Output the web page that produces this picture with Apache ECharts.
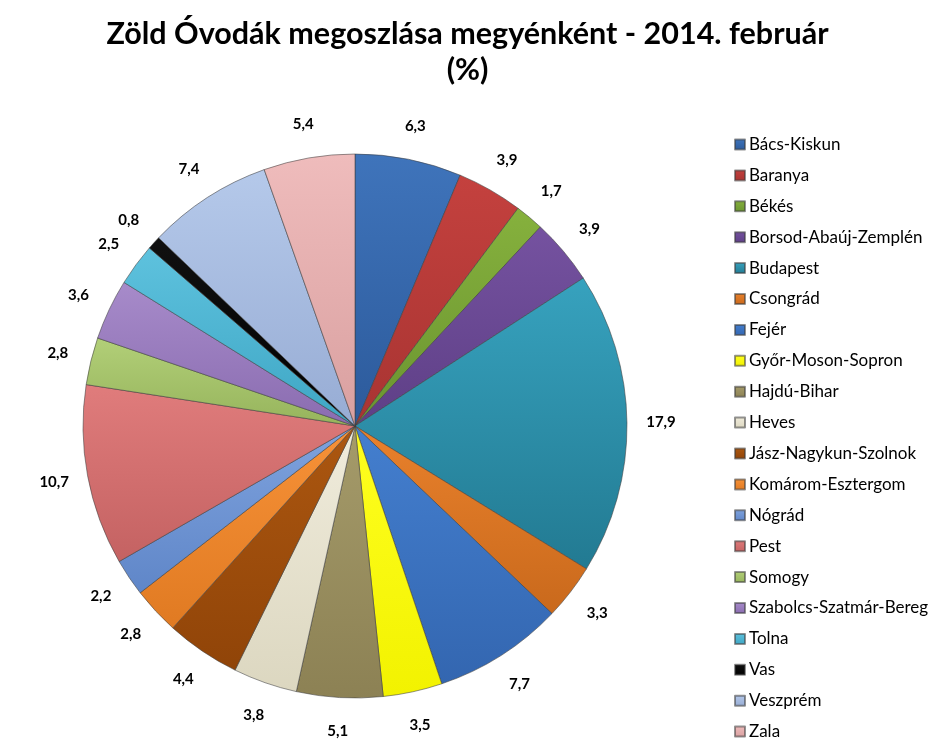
<!DOCTYPE html>
<html>
<head>
<meta charset="utf-8">
<script src="https://cdn.jsdelivr.net/npm/echarts@6/dist/echarts.min.js"></script>
<style>html,body{margin:0;padding:0;background:#fff}#c{width:935px;height:750px}</style>
</head>
<body>
<div id="c"></div>
<script>
const titleText = 'Zöld Óvodák megoszlása megyénként - 2014. február\n(%)';
const categories = ['Bács-Kiskun','Baranya','Békés','Borsod-Abaúj-Zemplén','Budapest','Csongrád','Fejér','Győr-Moson-Sopron','Hajdú-Bihar','Heves','Jász-Nagykun-Szolnok','Komárom-Esztergom','Nógrád','Pest','Somogy','Szabolcs-Szatmár-Bereg','Tolna','Vas','Veszprém','Zala'];
const values = [6.3,3.9,1.7,3.9,17.9,3.3,7.7,3.5,5.1,3.8,4.4,2.8,2.2,10.7,2.8,3.6,2.5,0.8,7.4,5.4];
// [top (light), bottom (dark)] colours per slice
const colors = [
  ['#3f74bb','#2c5a9b'],
  ['#c4413e','#a83432'],
  ['#86b13d','#6a9430'],
  ['#7552a0','#5e3f86'],
  ['#37a2be','#227a92'],
  ['#e9812c','#c9691c'],
  ['#447fcf','#3366b0'],
  ['#ffff20','#f2f200'],
  ['#a59b6a','#8c8154'],
  ['#f0ecdc','#dcd7c0'],
  ['#ac5710','#904408'],
  ['#f79238','#e07a22'],
  ['#7fa3de','#5f86c8'],
  ['#e07c7c','#c46262'],
  ['#b2cf78','#96b45c'],
  ['#a78bca','#8a6cb0'],
  ['#5ec2de','#3ea6c4'],
  ['#111111','#000000'],
  ['#b5c9ea','#97acd4'],
  ['#efbcbc','#d9a0a0']
];
const fontFam = 'Lato, "Open Sans", sans-serif';
const chart = echarts.init(document.getElementById('c'), null, {renderer:'canvas'});
const mainData = categories.map((n,i)=>({
  name:n, value:values[i],
  itemStyle:{color:new echarts.graphic.LinearGradient(0,0,0,1,[{offset:0,color:colors[i][0]},{offset:1,color:colors[i][1]}]), borderColor:'rgba(60,60,60,0.55)', borderWidth:1}
}));
const ringData = categories.map((n,i)=>({name:n, value:values[i]}));
chart.setOption({
  animation:false,
  backgroundColor:'#ffffff',
  title:{
    text:titleText, left:'center', top:11,
    textStyle:{fontFamily:fontFam, fontSize:30.5, fontWeight:'bold', color:'#000', lineHeight:36}
  },
  legend:{
    orient:'vertical', left:729, top:131,
    itemWidth:10, itemHeight:10, itemGap:13.9,
    icon:'rect',
    textStyle:{fontFamily:fontFam, fontSize:17, color:'#000', lineHeight:16, padding:[0,0,0,-1]},
    data:categories
  },
  series:[
    {
      type:'pie', name:'main', center:[355,426], radius:[0,272], startAngle:90, clockwise:true,
      label:{show:false}, labelLine:{show:false}, silent:true,
      data:mainData
    },
    {
      type:'pie', name:'labels', center:[355,426], radius:[272,334], startAngle:90, clockwise:true,
      silent:true, itemStyle:{color:'rgba(0,0,0,0)', borderWidth:0},
      label:{show:true, position:'inside', fontFamily:fontFam, fontSize:15, fontWeight:'bold', color:'#000',
        formatter:p=>String(p.value).replace('.',',')},
      labelLine:{show:false},
      data:ringData
    }
  ]
});
</script>
</body>
</html>
